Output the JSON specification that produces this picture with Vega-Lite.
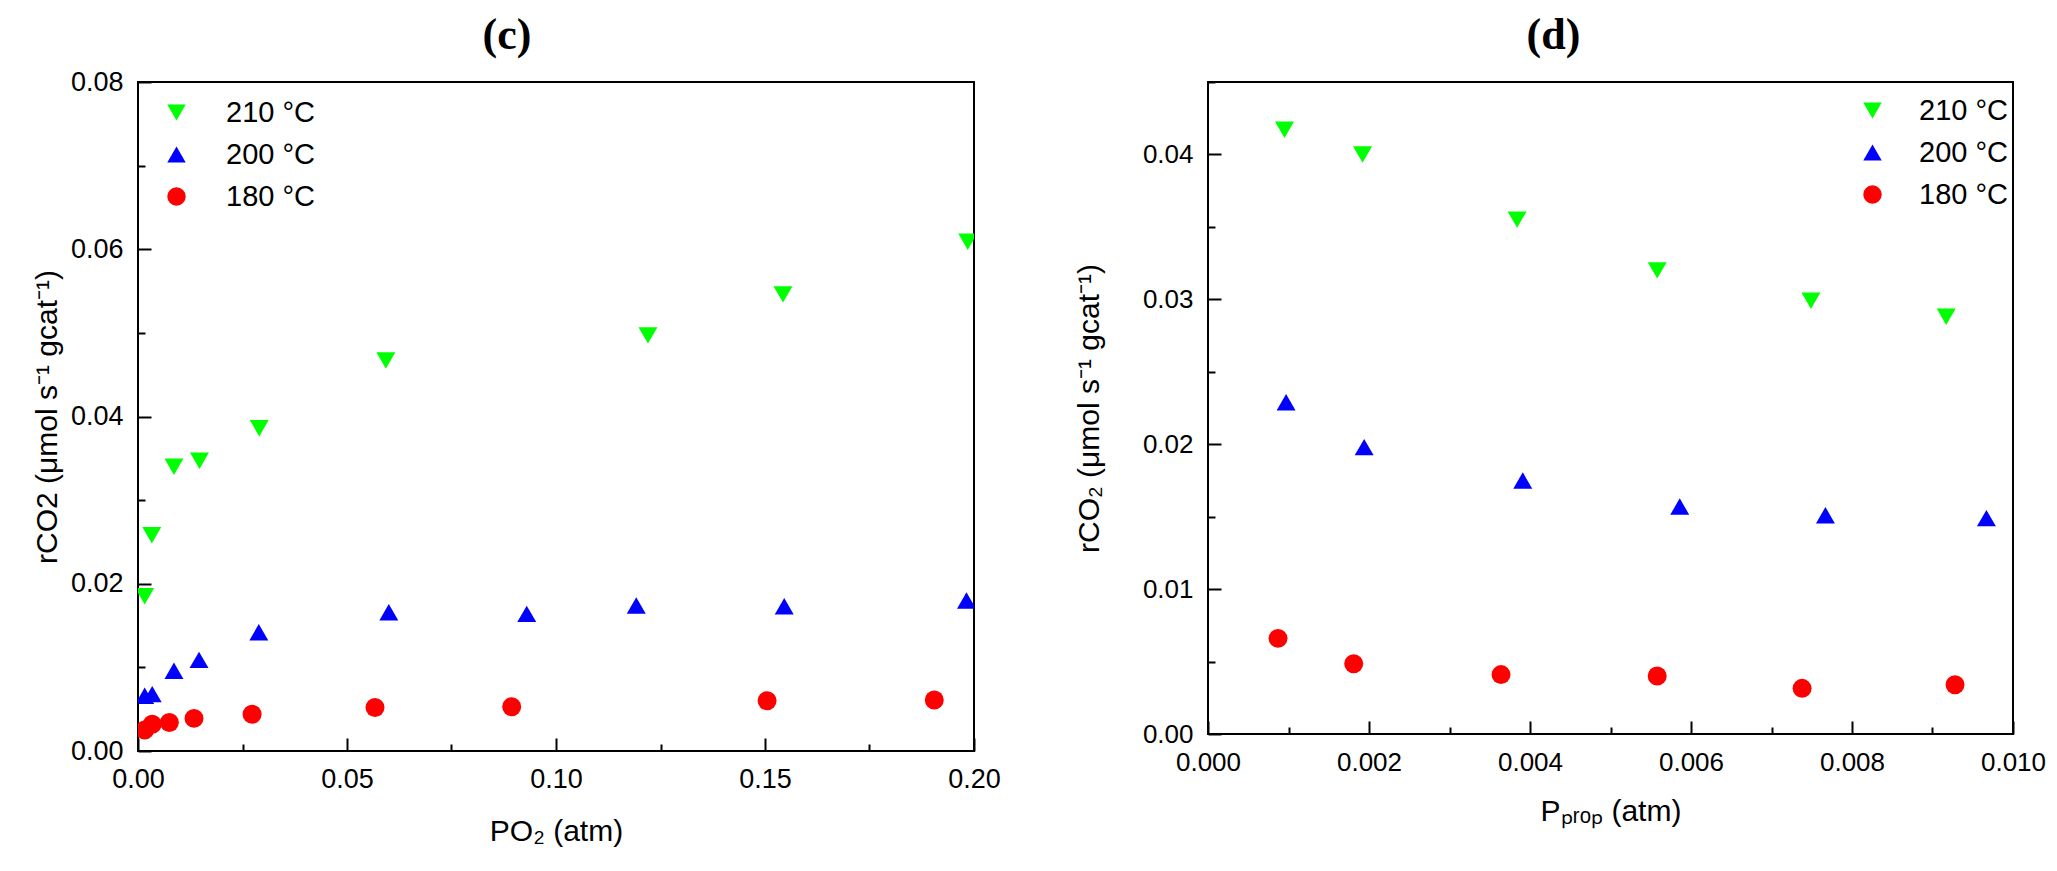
{
  "$schema": "https://vega.github.io/schema/vega-lite/v6.json",
  "background": "white",
  "padding": {"left": 31, "top": 13, "right": 0, "bottom": 0},
  "spacing": 71,
  "datasets": {
    "c": [
      {"x": 0.0016, "r": 0.0185, "T": "210 °C"},
      {"x": 0.0033, "r": 0.0258, "T": "210 °C"},
      {"x": 0.0086, "r": 0.0340, "T": "210 °C"},
      {"x": 0.0147, "r": 0.0347, "T": "210 °C"},
      {"x": 0.0290, "r": 0.0386, "T": "210 °C"},
      {"x": 0.0593, "r": 0.0467, "T": "210 °C"},
      {"x": 0.1220, "r": 0.0497, "T": "210 °C"},
      {"x": 0.1543, "r": 0.0546, "T": "210 °C"},
      {"x": 0.1985, "r": 0.0609, "T": "210 °C"},
      {"x": 0.0016, "r": 0.0066, "T": "200 °C"},
      {"x": 0.0034, "r": 0.0068, "T": "200 °C"},
      {"x": 0.0086, "r": 0.0096, "T": "200 °C"},
      {"x": 0.0146, "r": 0.0109, "T": "200 °C"},
      {"x": 0.0289, "r": 0.0142, "T": "200 °C"},
      {"x": 0.0600, "r": 0.0166, "T": "200 °C"},
      {"x": 0.0930, "r": 0.0164, "T": "200 °C"},
      {"x": 0.1192, "r": 0.0174, "T": "200 °C"},
      {"x": 0.1546, "r": 0.0173, "T": "200 °C"},
      {"x": 0.1982, "r": 0.0180, "T": "200 °C"},
      {"x": 0.0016, "r": 0.0025, "T": "180 °C"},
      {"x": 0.0034, "r": 0.0032, "T": "180 °C"},
      {"x": 0.0075, "r": 0.0034, "T": "180 °C"},
      {"x": 0.0134, "r": 0.0039, "T": "180 °C"},
      {"x": 0.0273, "r": 0.0044, "T": "180 °C"},
      {"x": 0.0567, "r": 0.0052, "T": "180 °C"},
      {"x": 0.0894, "r": 0.0053, "T": "180 °C"},
      {"x": 0.1505, "r": 0.0060, "T": "180 °C"},
      {"x": 0.1905, "r": 0.0061, "T": "180 °C"}
    ],
    "d": [
      {"x": 0.00095, "r": 0.0417, "T": "210 °C"},
      {"x": 0.00192, "r": 0.0400, "T": "210 °C"},
      {"x": 0.00384, "r": 0.0355, "T": "210 °C"},
      {"x": 0.00558, "r": 0.0320, "T": "210 °C"},
      {"x": 0.00749, "r": 0.0299, "T": "210 °C"},
      {"x": 0.00917, "r": 0.0288, "T": "210 °C"},
      {"x": 0.00097, "r": 0.0229, "T": "200 °C"},
      {"x": 0.00194, "r": 0.0198, "T": "200 °C"},
      {"x": 0.00391, "r": 0.0175, "T": "200 °C"},
      {"x": 0.00586, "r": 0.0157, "T": "200 °C"},
      {"x": 0.00767, "r": 0.0151, "T": "200 °C"},
      {"x": 0.00967, "r": 0.0149, "T": "200 °C"},
      {"x": 0.00087, "r": 0.0066, "T": "180 °C"},
      {"x": 0.00181, "r": 0.00485, "T": "180 °C"},
      {"x": 0.00364, "r": 0.0041, "T": "180 °C"},
      {"x": 0.00558, "r": 0.0040, "T": "180 °C"},
      {"x": 0.00738, "r": 0.00315, "T": "180 °C"},
      {"x": 0.00928, "r": 0.0034, "T": "180 °C"}
    ]
  },
  "resolve": {"scale": {"color": "independent", "shape": "independent"}},
  "hconcat": [
    {
      "width": 836,
      "height": 669,
      "title": {"text": "(c)", "dx": -49, "offset": 10},
      "data": {"name": "c"},
      "resolve": {"axis": {"x": "independent", "y": "independent"}},
      "layer": [
        {
          "mark": {"type": "point", "filled": true, "opacity": 1, "size": 360, "clip": true},
          "encoding": {
            "x": {
              "field": "x", "type": "quantitative",
              "scale": {"domain": [0, 0.2], "nice": false},
              "axis": {
                "orient": "bottom",
                "title": "PO₂ (atm)",
                "values": [0, 0.05, 0.1, 0.15, 0.2],
                "format": ".2f",
                "offset": -13,
                "tickSize": 13,
                "labelPadding": 15,
                "labelFontSize": 27,
                "titlePadding": 24
              }
            },
            "y": {
              "field": "r", "type": "quantitative",
              "scale": {"domain": [0, 0.08], "nice": false},
              "axis": {
                "orient": "left",
                "title": "rCO2 (μmol s⁻¹ gcat⁻¹)",
                "values": [0, 0.02, 0.04, 0.06, 0.08],
                "format": ".2f",
                "offset": -13,
                "tickSize": 13,
                "labelPadding": 15,
                "labelFontSize": 27,
                "titlePadding": 8
              }
            },
            "color": {
              "field": "T", "type": "nominal",
              "scale": {"domain": ["210 °C", "200 °C", "180 °C"], "range": ["#00ff00", "#0000ff", "#ff0000"]},
              "legend": {"title": null, "orient": "none", "legendX": 24, "legendY": 16, "labelOffset": 35}
            },
            "shape": {
              "field": "T", "type": "nominal",
              "scale": {"domain": ["210 °C", "200 °C", "180 °C"], "range": ["triangle-down", "triangle-up", "circle"]},
              "legend": {"title": null, "orient": "none", "legendX": 24, "legendY": 16, "labelOffset": 35}
            }
          }
        },
        {
          "mark": {"type": "point", "opacity": 0},
          "encoding": {
            "x": {
              "field": "x", "type": "quantitative",
              "axis": {"orient": "bottom", "title": null, "labels": false, "domain": false, "values": [0.025, 0.075, 0.125, 0.175], "offset": -7, "tickSize": 7}
            },
            "y": {
              "field": "r", "type": "quantitative",
              "axis": {"orient": "left", "title": null, "labels": false, "domain": false, "values": [0.01, 0.03, 0.05, 0.07], "offset": -7, "tickSize": 7}
            }
          }
        }
      ]
    },
    {
      "width": 805,
      "height": 652,
      "title": {"text": "(d)", "dx": -57, "offset": 23},
      "data": {"name": "d"},
      "resolve": {"axis": {"x": "independent", "y": "independent"}},
      "layer": [
        {
          "mark": {"type": "point", "filled": true, "opacity": 1, "size": 360, "clip": true},
          "encoding": {
            "x": {
              "field": "x", "type": "quantitative",
              "scale": {"domain": [0, 0.01], "nice": false},
              "axis": {
                "orient": "bottom",
                "title": "Pₚᵣₒₚ (atm)",
                "values": [0, 0.002, 0.004, 0.006, 0.008, 0.01],
                "format": ".3f",
                "offset": -13,
                "tickSize": 13,
                "labelPadding": 15,
                "labelFontSize": 26,
                "titlePadding": 21
              }
            },
            "y": {
              "field": "r", "type": "quantitative",
              "scale": {"domain": [0, 0.045], "nice": false},
              "axis": {
                "orient": "left",
                "title": "rCO₂ (μmol s⁻¹ gcat⁻¹)",
                "values": [0, 0.01, 0.02, 0.03, 0.04],
                "format": ".2f",
                "offset": -13,
                "tickSize": 13,
                "labelPadding": 15,
                "labelFontSize": 26,
                "titlePadding": 38
              }
            },
            "color": {
              "field": "T", "type": "nominal",
              "scale": {"domain": ["210 °C", "200 °C", "180 °C"], "range": ["#00ff00", "#0000ff", "#ff0000"]},
              "legend": {"title": null, "orient": "none", "legendX": 650, "legendY": 14, "labelOffset": 32}
            },
            "shape": {
              "field": "T", "type": "nominal",
              "scale": {"domain": ["210 °C", "200 °C", "180 °C"], "range": ["triangle-down", "triangle-up", "circle"]},
              "legend": {"title": null, "orient": "none", "legendX": 650, "legendY": 14, "labelOffset": 32}
            }
          }
        },
        {
          "mark": {"type": "point", "opacity": 0},
          "encoding": {
            "x": {
              "field": "x", "type": "quantitative",
              "axis": {"orient": "bottom", "title": null, "labels": false, "domain": false, "values": [0.001, 0.003, 0.005, 0.007, 0.009], "offset": -7, "tickSize": 7}
            },
            "y": {
              "field": "r", "type": "quantitative",
              "axis": {"orient": "left", "title": null, "labels": false, "domain": false, "values": [0.005, 0.015, 0.025, 0.035, 0.045], "offset": -7, "tickSize": 7}
            }
          }
        }
      ]
    }
  ],
  "config": {
    "font": "Liberation Sans",
    "view": {"stroke": "black", "strokeWidth": 2, "fill": "transparent"},
    "title": {"font": "Liberation Serif", "fontSize": 44, "fontWeight": "bold", "color": "black", "anchor": "middle", "frame": "group"},
    "axis": {
      "grid": false,
      "zindex": 1,
      "domain": false,
      "ticks": true,
      "tickColor": "black",
      "tickWidth": 2,
      "labelFont": "Liberation Sans",
      "labelColor": "black",
      "labelFlush": false,
      "labelOverlap": false,
      "titleFont": "Liberation Sans",
      "titleFontSize": 30,
      "titleFontWeight": "normal",
      "titleColor": "black"
    },
    "legend": {
      "padding": 0,
      "rowPadding": 12,
      "symbolSize": 340,
      "symbolStrokeWidth": 0,
      "labelFont": "Liberation Sans",
      "labelFontSize": 29,
      "labelColor": "black"
    }
  }
}
